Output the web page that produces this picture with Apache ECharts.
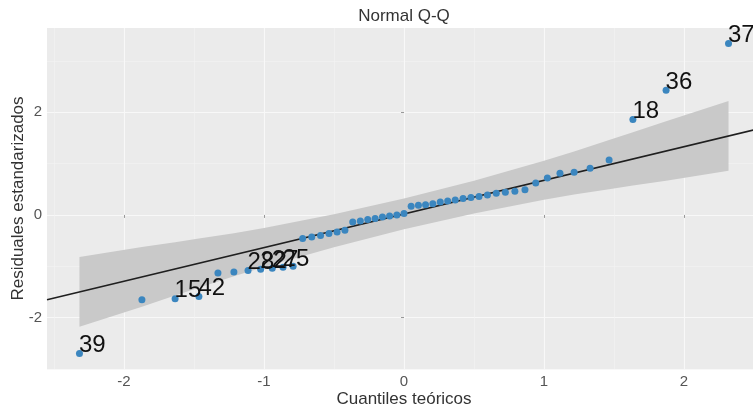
<!DOCTYPE html>
<html>
<head>
<meta charset="utf-8">
<script src="https://cdn.jsdelivr.net/npm/echarts@6/dist/echarts.min.js"></script>
<style>
  html, body { margin: 0; padding: 0; background: #ffffff; }
  #chart { width: 753px; height: 413px; }
</style>
</head>
<body>
<div id="chart"></div>
<script>
// Theoretical normal quantiles (one per observation, n = 49)
const theoretical = [
  -2.318, -1.872, -1.635, -1.465, -1.329, -1.215, -1.114, -1.024, -0.941, -0.864,
  -0.792, -0.724, -0.659, -0.596, -0.536, -0.478, -0.422, -0.366, -0.312, -0.259,
  -0.206, -0.154, -0.103, -0.051, 0.000, 0.051, 0.103, 0.154, 0.206, 0.259,
  0.312, 0.366, 0.422, 0.478, 0.536, 0.596, 0.659, 0.724, 0.792, 0.864,
  0.941, 1.024, 1.114, 1.215, 1.329, 1.465, 1.635, 1.872, 2.318
];
// Sorted standardized residuals
const residuals = [
  -2.70, -1.65, -1.63, -1.59, -1.13, -1.11, -1.08, -1.06, -1.04, -1.02,
  -1.00, -0.46, -0.43, -0.40, -0.36, -0.33, -0.30, -0.14, -0.12, -0.09,
  -0.07, -0.04, -0.02, 0.00, 0.03, 0.17, 0.19, 0.20, 0.22, 0.25,
  0.27, 0.29, 0.32, 0.34, 0.36, 0.39, 0.42, 0.44, 0.46, 0.49,
  0.62, 0.72, 0.81, 0.83, 0.91, 1.07, 1.86, 2.43, 3.34
];
// Observation ids shown next to flagged points
const obsLabels = [
  '39', '', '15', '42', '', '', '28', '22', '27', '25',
  '', '', '', '', '', '', '', '', '', '',
  '', '', '', '', '', '', '', '', '', '',
  '', '', '', '', '', '', '', '', '', '',
  '', '', '', '', '', '', '18', '36', '37'
];

// Simultaneous 95% confidence band around the reference line
const bandX    = [-2.318, -1.872, -1.635, -1.465, -1.215, -1.0, -0.5, 0.0, 0.5, 1.0, 1.215, 1.465, 1.635, 1.872, 2.318];
const bandLow  = [-2.178, -1.786, -1.571, -1.420, -1.196, -1.015, -0.628, -0.280, 0.028, 0.295, 0.396, 0.500, 0.571, 0.666, 0.858];
const bandHigh = [-0.818, -0.626, -0.531, -0.460, -0.356, -0.255, 0.012, 0.320, 0.668, 1.055, 1.236, 1.460, 1.611, 1.826, 2.218];

// Reference line (quartile fit)
const lineIntercept = 0.02;
const lineSlope = 0.655;

// Axis ranges and breaks
const xRange = [-2.55, 2.55];
const yRange = [-3.0, 3.64];
const xBreaks = [-2, -1, 0, 1, 2];
const yBreaks = [-2, 0, 2];
const xMinorBreaks = [-2.5, -1.5, -0.5, 0.5, 1.5, 2.5];
const yMinorBreaks = [-3, -1, 1, 3];

const chart = echarts.init(document.getElementById('chart'));

const tickLabelStyle = { color: '#555555', fontSize: 15, fontFamily: 'Liberation Sans, Arial, sans-serif' };
const axisNameStyle = { color: '#333333', fontSize: 17, fontFamily: 'Liberation Sans, Arial, sans-serif' };

const option = {
  animation: false,
  graphic: [{
    type: 'text',
    x: 404, y: 16,
    style: {
      text: 'Normal Q-Q',
      fill: '#333333',
      font: '17px "Liberation Sans", Arial, sans-serif',
      textAlign: 'center',
      textVerticalAlign: 'middle'
    }
  }],
  grid: {
    left: 47, top: 28, width: 714, height: 341,
    outerBoundsMode: 'none',
    containLabel: false,
    show: true, backgroundColor: '#ebebeb', borderWidth: 0
  },
  xAxis: [{
    type: 'value', min: xRange[0], max: xRange[1],
    name: 'Cuantiles teóricos', nameLocation: 'middle', nameGap: 22,
    nameMoveOverlap: false,
    nameTextStyle: axisNameStyle,
    axisLine: { show: false },
    axisTick: { show: true, length: 3, lineStyle: { color: '#999999' }, customValues: xBreaks },
    axisLabel: Object.assign({ margin: 5, customValues: xBreaks }, tickLabelStyle),
    splitLine: { show: true, lineStyle: { color: '#f8f8f8', width: 1.1 } }
  }, {
    type: 'value', min: xRange[0], max: xRange[1], position: 'bottom',
    axisLine: { show: false },
    axisTick: { show: false, customValues: xMinorBreaks },
    axisLabel: { show: false, customValues: xMinorBreaks },
    splitLine: { show: true, lineStyle: { color: '#f3f3f3', width: 0.6 } }
  }],
  yAxis: [{
    type: 'value', min: yRange[0], max: yRange[1],
    name: 'Residuales estandarizados', nameLocation: 'middle', nameGap: 20, nameRotate: 90,
    nameMoveOverlap: false,
    nameTextStyle: axisNameStyle,
    axisLine: { show: false },
    axisTick: { show: true, length: 3, lineStyle: { color: '#999999' }, customValues: yBreaks },
    axisLabel: Object.assign({ margin: 5, customValues: yBreaks }, tickLabelStyle),
    splitLine: { show: true, lineStyle: { color: '#f8f8f8', width: 1.1 } }
  }, {
    type: 'value', min: yRange[0], max: yRange[1], position: 'left',
    axisLine: { show: false },
    axisTick: { show: false, customValues: yMinorBreaks },
    axisLabel: { show: false, customValues: yMinorBreaks },
    splitLine: { show: true, lineStyle: { color: '#f3f3f3', width: 0.6 } }
  }],
  series: [
    {
      name: 'band', type: 'custom', silent: true, z: 1,
      xAxisIndex: 0, yAxisIndex: 0,
      data: bandX.map((x, i) => [x, bandLow[i], bandHigh[i]]),
      encode: { x: 0, y: [1, 2] },
      renderItem: function (params, api) {
        if (params.dataIndex !== 0) return null;
        const upper = bandX.map((x, i) => api.coord([x, bandHigh[i]]));
        const lower = bandX.map((x, i) => api.coord([x, bandLow[i]])).reverse();
        return {
          type: 'polygon',
          shape: { points: upper.concat(lower) },
          style: { fill: '#c9c9c9' }
        };
      }
    },
    {
      name: 'qqline', type: 'line', silent: true, z: 2,
      xAxisIndex: 0, yAxisIndex: 0,
      symbol: 'none',
      data: xRange.map(x => [x, lineIntercept + lineSlope * x]),
      lineStyle: { color: '#1f1f1f', width: 1.6 }
    },
    {
      name: 'residuals', type: 'scatter', z: 3,
      xAxisIndex: 0, yAxisIndex: 0,
      symbolSize: 7,
      itemStyle: { color: '#3b86bf', opacity: 1 },
      data: theoretical.map((x, i) => [x, residuals[i], obsLabels[i]]),
      label: {
        show: true,
        position: 'right',
        distance: 0,
        offset: [-4, -8],
        color: '#111111',
        fontSize: 24,
        fontFamily: 'Liberation Sans, Arial, sans-serif',
        formatter: p => p.value[2]
      }
    }
  ]
};

chart.setOption(option);
</script>
</body>
</html>
